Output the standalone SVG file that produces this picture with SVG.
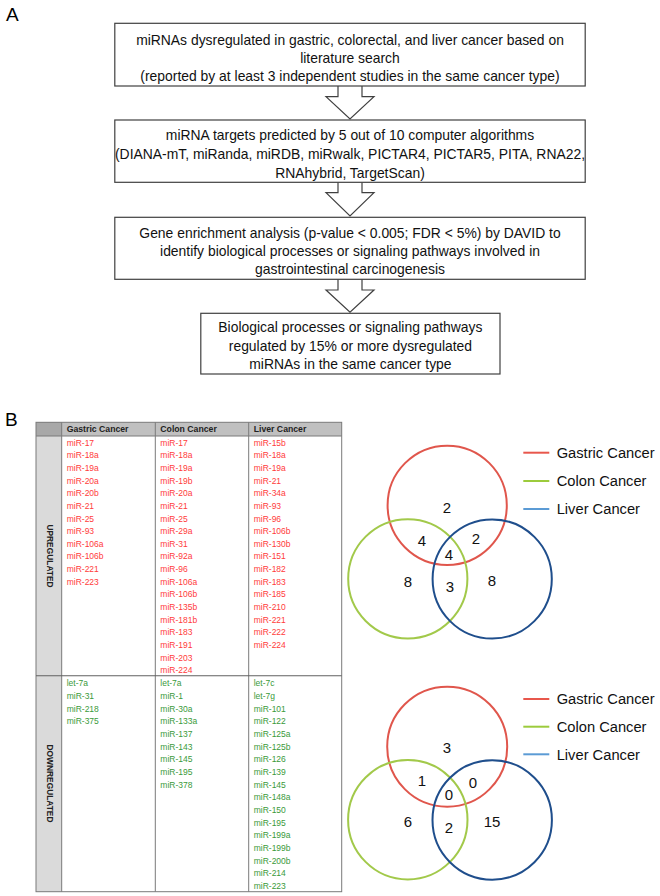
<svg xmlns="http://www.w3.org/2000/svg" width="660" height="896" viewBox="0 0 660 896">
<style>
.bx{fill:#fff;stroke:#404040;stroke-width:1.2}
.ar{fill:#fff;stroke:#404040;stroke-width:1.2;stroke-linejoin:miter}
.ft{font-family:"Liberation Sans",Arial,sans-serif;font-size:13.9px;fill:#111;text-anchor:middle}
.lab{font-family:"Liberation Sans",Arial,sans-serif;font-size:19px;fill:#000}
.th{font-family:"Liberation Sans",Arial,sans-serif;font-size:8.7px;font-weight:bold;fill:#222}
.up{font-family:"Liberation Sans",Arial,sans-serif;font-size:8.5px;fill:#ff3b3b}
.dn{font-family:"Liberation Sans",Arial,sans-serif;font-size:8.5px;fill:#3a9a3a}
.vt{font-family:"Liberation Sans",Arial,sans-serif;font-size:8.4px;font-weight:bold;fill:#222;text-anchor:middle}
.tl{stroke:#7a7a7a;stroke-width:1;fill:none}
.vn{font-family:"Liberation Sans",Arial,sans-serif;font-size:15px;fill:#111;text-anchor:middle}
.lg{font-family:"Liberation Sans",Arial,sans-serif;font-size:14.7px;fill:#111}
.cr{fill:none;stroke:#e0564c;stroke-width:2}
.cg{fill:none;stroke:#a2c94a;stroke-width:2}
.cb{fill:none;stroke:#1f4e8c;stroke-width:2}
.lr{stroke:#e8574c;stroke-width:2}
.lgn{stroke:#9ccb3c;stroke-width:2}
.lb{stroke:#5b9bd5;stroke-width:2}
</style>

<text class="lab" x="6" y="21">A</text>
<text class="lab" x="5" y="426">B</text>

<g id="connectors">
<polyline class="ar" points="338,86 338,96.7 326,96.7 350,119 374,96.7 362,96.7 362,86"/>
<polyline class="ar" points="338,182.3 338,192.7 326,192.7 350,216 374,192.7 362,192.7 362,182.3"/>
<polyline class="ar" points="338,279.3 338,290 326,290 350,312.3 374,290 362,290 362,279.3"/>
</g>

<g id="box1">
<rect class="bx" x="114.8" y="23.3" width="470.4" height="62.7"/>
<text class="ft" x="350" y="44.5">miRNAs dysregulated in gastric, colorectal, and liver cancer based on</text>
<text class="ft" x="350" y="62.5">literature search</text>
<text class="ft" x="350" y="80.5">(reported by at least 3 independent studies in the same cancer type)</text>
</g>
<g id="box2">
<rect class="bx" x="114.8" y="120" width="470.4" height="62.3"/>
<text class="ft" x="350" y="140">miRNA targets predicted by 5 out of 10 computer algorithms</text>
<text class="ft" x="350" y="159">(DIANA-mT, miRanda, miRDB, miRwalk, PICTAR4, PICTAR5, PITA, RNA22,</text>
<text class="ft" x="350" y="177.5">RNAhybrid, TargetScan)</text>
</g>
<g id="box3">
<rect class="bx" x="114.8" y="217.3" width="470.4" height="62"/>
<text class="ft" x="350" y="237.7">Gene enrichment analysis (p-value &lt; 0.005; FDR &lt; 5%) by DAVID to</text>
<text class="ft" x="350" y="256">identify biological processes or signaling pathways involved in</text>
<text class="ft" x="350" y="274">gastrointestinal carcinogenesis</text>
</g>
<g id="box4">
<rect class="bx" x="200.8" y="313.3" width="299.2" height="60.7"/>
<text class="ft" x="350.4" y="332.3">Biological processes or signaling pathways</text>
<text class="ft" x="350.4" y="350.7">regulated by 15% or more dysregulated</text>
<text class="ft" x="350.4" y="369">miRNAs in the same cancer type</text>
</g>

<g id="table">
<rect x="36" y="422.3" width="305.7" height="469.4" fill="#fff"/>
<rect x="36" y="422.3" width="305.7" height="13.7" fill="#c0c0c0"/>
<rect x="36" y="422.3" width="25.7" height="13.7" fill="#a8a8a8"/>
<rect x="36" y="436" width="25.7" height="455.7" fill="#dadada"/>
<rect class="tl" x="36" y="422.3" width="305.7" height="469.4"/>
<line class="tl" x1="61.7" y1="422.3" x2="61.7" y2="891.7"/>
<line class="tl" x1="155.3" y1="422.3" x2="155.3" y2="891.7"/>
<line class="tl" x1="248.7" y1="422.3" x2="248.7" y2="891.7"/>
<line class="tl" x1="36" y1="436" x2="341.7" y2="436"/>
<line x1="36" y1="675.7" x2="341.7" y2="675.7" stroke="#606060" stroke-width="1.1"/>
<text class="th" x="66.7" y="432.4">Gastric Cancer</text>
<text class="th" x="160.3" y="432.4">Colon Cancer</text>
<text class="th" x="253.7" y="432.4">Liver Cancer</text>
<text class="vt" x="47" y="556" transform="rotate(90 47 556)">UPREGULATED</text>
<text class="vt" x="47" y="783.5" transform="rotate(90 47 783.5)">DOWNREGULATED</text>
<text class="up" x="66.7" y="445.8"><tspan x="66.7" dy="0">miR-17</tspan><tspan x="66.7" dy="12.63">miR-18a</tspan><tspan x="66.7" dy="12.63">miR-19a</tspan><tspan x="66.7" dy="12.63">miR-20a</tspan><tspan x="66.7" dy="12.63">miR-20b</tspan><tspan x="66.7" dy="12.63">miR-21</tspan><tspan x="66.7" dy="12.63">miR-25</tspan><tspan x="66.7" dy="12.63">miR-93</tspan><tspan x="66.7" dy="12.63">miR-106a</tspan><tspan x="66.7" dy="12.63">miR-106b</tspan><tspan x="66.7" dy="12.63">miR-221</tspan><tspan x="66.7" dy="12.63">miR-223</tspan></text>
<text class="up" x="160.3" y="445.8"><tspan x="160.3" dy="0">miR-17</tspan><tspan x="160.3" dy="12.63">miR-18a</tspan><tspan x="160.3" dy="12.63">miR-19a</tspan><tspan x="160.3" dy="12.63">miR-19b</tspan><tspan x="160.3" dy="12.63">miR-20a</tspan><tspan x="160.3" dy="12.63">miR-21</tspan><tspan x="160.3" dy="12.63">miR-25</tspan><tspan x="160.3" dy="12.63">miR-29a</tspan><tspan x="160.3" dy="12.63">miR-31</tspan><tspan x="160.3" dy="12.63">miR-92a</tspan><tspan x="160.3" dy="12.63">miR-96</tspan><tspan x="160.3" dy="12.63">miR-106a</tspan><tspan x="160.3" dy="12.63">miR-106b</tspan><tspan x="160.3" dy="12.63">miR-135b</tspan><tspan x="160.3" dy="12.63">miR-181b</tspan><tspan x="160.3" dy="12.63">miR-183</tspan><tspan x="160.3" dy="12.63">miR-191</tspan><tspan x="160.3" dy="12.63">miR-203</tspan><tspan x="160.3" dy="12.63">miR-224</tspan></text>
<text class="up" x="253.7" y="445.8"><tspan x="253.7" dy="0">miR-15b</tspan><tspan x="253.7" dy="12.63">miR-18a</tspan><tspan x="253.7" dy="12.63">miR-19a</tspan><tspan x="253.7" dy="12.63">miR-21</tspan><tspan x="253.7" dy="12.63">miR-34a</tspan><tspan x="253.7" dy="12.63">miR-93</tspan><tspan x="253.7" dy="12.63">miR-96</tspan><tspan x="253.7" dy="12.63">miR-106b</tspan><tspan x="253.7" dy="12.63">miR-130b</tspan><tspan x="253.7" dy="12.63">miR-151</tspan><tspan x="253.7" dy="12.63">miR-182</tspan><tspan x="253.7" dy="12.63">miR-183</tspan><tspan x="253.7" dy="12.63">miR-185</tspan><tspan x="253.7" dy="12.63">miR-210</tspan><tspan x="253.7" dy="12.63">miR-221</tspan><tspan x="253.7" dy="12.63">miR-222</tspan><tspan x="253.7" dy="12.63">miR-224</tspan></text>
<text class="dn" x="66.7" y="686.4"><tspan x="66.7" dy="0">let-7a</tspan><tspan x="66.7" dy="12.65">miR-31</tspan><tspan x="66.7" dy="12.65">miR-218</tspan><tspan x="66.7" dy="12.65">miR-375</tspan></text>
<text class="dn" x="160.3" y="686.4"><tspan x="160.3" dy="0">let-7a</tspan><tspan x="160.3" dy="12.65">miR-1</tspan><tspan x="160.3" dy="12.65">miR-30a</tspan><tspan x="160.3" dy="12.65">miR-133a</tspan><tspan x="160.3" dy="12.65">miR-137</tspan><tspan x="160.3" dy="12.65">miR-143</tspan><tspan x="160.3" dy="12.65">miR-145</tspan><tspan x="160.3" dy="12.65">miR-195</tspan><tspan x="160.3" dy="12.65">miR-378</tspan></text>
<text class="dn" x="253.7" y="686.4"><tspan x="253.7" dy="0">let-7c</tspan><tspan x="253.7" dy="12.65">let-7g</tspan><tspan x="253.7" dy="12.65">miR-101</tspan><tspan x="253.7" dy="12.65">miR-122</tspan><tspan x="253.7" dy="12.65">miR-125a</tspan><tspan x="253.7" dy="12.65">miR-125b</tspan><tspan x="253.7" dy="12.65">miR-126</tspan><tspan x="253.7" dy="12.65">miR-139</tspan><tspan x="253.7" dy="12.65">miR-145</tspan><tspan x="253.7" dy="12.65">miR-148a</tspan><tspan x="253.7" dy="12.65">miR-150</tspan><tspan x="253.7" dy="12.65">miR-195</tspan><tspan x="253.7" dy="12.65">miR-199a</tspan><tspan x="253.7" dy="12.65">miR-199b</tspan><tspan x="253.7" dy="12.65">miR-200b</tspan><tspan x="253.7" dy="12.65">miR-214</tspan><tspan x="253.7" dy="12.65">miR-223</tspan></text>
</g>

<g id="venn-up">
<circle class="cr" cx="447.2" cy="505.3" r="59.6"/>
<circle class="cg" cx="407.8" cy="578.8" r="59.6"/>
<circle class="cb" cx="492.2" cy="579" r="59.6"/>
<text class="vn" x="447" y="513.4">2</text>
<text class="vn" x="422" y="546.4">4</text>
<text class="vn" x="476" y="544.4">2</text>
<text class="vn" x="449" y="560.4">4</text>
<text class="vn" x="408" y="587.4">8</text>
<text class="vn" x="450" y="592.4">3</text>
<text class="vn" x="492" y="586.4">8</text>
<line class="lr" x1="523.3" y1="452.7" x2="549.3" y2="452.7"/>
<line class="lgn" x1="523.3" y1="481" x2="549.3" y2="481"/>
<line class="lb" x1="523.3" y1="509" x2="549.3" y2="509"/>
<text class="lg" x="556.7" y="458">Gastric Cancer</text>
<text class="lg" x="556.7" y="486.3">Colon Cancer</text>
<text class="lg" x="556.7" y="514.3">Liver Cancer</text>
</g>

<g id="venn-down">
<circle class="cr" cx="447.2" cy="746.7" r="60"/>
<circle class="cg" cx="407.8" cy="819.7" r="59.7"/>
<circle class="cb" cx="492.2" cy="820" r="59.7"/>
<text class="vn" x="447" y="753.4">3</text>
<text class="vn" x="422" y="786.4">1</text>
<text class="vn" x="473" y="788.4">0</text>
<text class="vn" x="449" y="800.4">0</text>
<text class="vn" x="408" y="827.4">6</text>
<text class="vn" x="449" y="833.4">2</text>
<text class="vn" x="492" y="827.4">15</text>
<line class="lr" x1="523.3" y1="699" x2="549.3" y2="699"/>
<line class="lgn" x1="523.3" y1="726.7" x2="549.3" y2="726.7"/>
<line class="lb" x1="523.3" y1="754.3" x2="549.3" y2="754.3"/>
<text class="lg" x="556.7" y="704.3">Gastric Cancer</text>
<text class="lg" x="556.7" y="732">Colon Cancer</text>
<text class="lg" x="556.7" y="759.6">Liver Cancer</text>
</g>
</svg>
